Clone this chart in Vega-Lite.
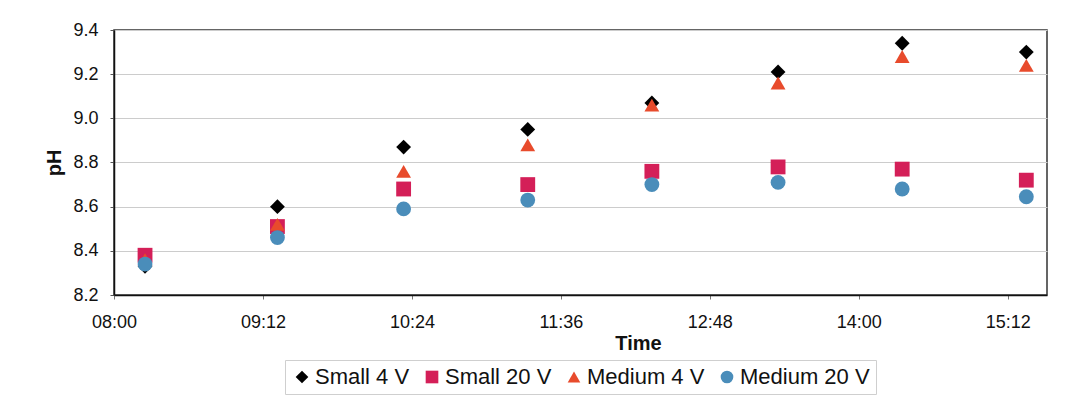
{
  "$schema": "https://vega.github.io/schema/vega-lite/v6.json",
  "width": 933,
  "height": 265,
  "autosize": {"type": "none"},
  "padding": {"left": 114, "top": 30, "right": 25, "bottom": 112},
  "background": "white",
  "config": {
    "font": "Liberation Sans",
    "view": {"stroke": "#333333", "strokeWidth": 1.5}
  },
  "data": {
    "values": [
      {"time": "2000-01-01T08:15", "series": "Small 4 V", "pH": 8.33},
      {"time": "2000-01-01T09:19", "series": "Small 4 V", "pH": 8.60},
      {"time": "2000-01-01T10:20", "series": "Small 4 V", "pH": 8.87},
      {"time": "2000-01-01T11:20", "series": "Small 4 V", "pH": 8.95},
      {"time": "2000-01-01T12:20", "series": "Small 4 V", "pH": 9.07},
      {"time": "2000-01-01T13:21", "series": "Small 4 V", "pH": 9.21},
      {"time": "2000-01-01T14:21", "series": "Small 4 V", "pH": 9.34},
      {"time": "2000-01-01T15:21", "series": "Small 4 V", "pH": 9.30},
      {"time": "2000-01-01T08:15", "series": "Small 20 V", "pH": 8.38},
      {"time": "2000-01-01T09:19", "series": "Small 20 V", "pH": 8.51},
      {"time": "2000-01-01T10:20", "series": "Small 20 V", "pH": 8.68},
      {"time": "2000-01-01T11:20", "series": "Small 20 V", "pH": 8.70},
      {"time": "2000-01-01T12:20", "series": "Small 20 V", "pH": 8.76},
      {"time": "2000-01-01T13:21", "series": "Small 20 V", "pH": 8.78},
      {"time": "2000-01-01T14:21", "series": "Small 20 V", "pH": 8.77},
      {"time": "2000-01-01T15:21", "series": "Small 20 V", "pH": 8.72},
      {"time": "2000-01-01T08:15", "series": "Medium 4 V", "pH": 8.36},
      {"time": "2000-01-01T09:19", "series": "Medium 4 V", "pH": 8.52},
      {"time": "2000-01-01T10:20", "series": "Medium 4 V", "pH": 8.76},
      {"time": "2000-01-01T11:20", "series": "Medium 4 V", "pH": 8.88},
      {"time": "2000-01-01T12:20", "series": "Medium 4 V", "pH": 9.06},
      {"time": "2000-01-01T13:21", "series": "Medium 4 V", "pH": 9.16},
      {"time": "2000-01-01T14:21", "series": "Medium 4 V", "pH": 9.28},
      {"time": "2000-01-01T15:21", "series": "Medium 4 V", "pH": 9.24},
      {"time": "2000-01-01T08:15", "series": "Medium 20 V", "pH": 8.34},
      {"time": "2000-01-01T09:19", "series": "Medium 20 V", "pH": 8.46},
      {"time": "2000-01-01T10:20", "series": "Medium 20 V", "pH": 8.59},
      {"time": "2000-01-01T11:20", "series": "Medium 20 V", "pH": 8.63},
      {"time": "2000-01-01T12:20", "series": "Medium 20 V", "pH": 8.70},
      {"time": "2000-01-01T13:21", "series": "Medium 20 V", "pH": 8.71},
      {"time": "2000-01-01T14:21", "series": "Medium 20 V", "pH": 8.68},
      {"time": "2000-01-01T15:21", "series": "Medium 20 V", "pH": 8.645}
    ]
  },
  "mark": {"type": "point", "filled": true, "opacity": 1, "size": 220},
  "encoding": {
    "x": {
      "field": "time",
      "type": "temporal",
      "title": "Time",
      "scale": {
        "domain": [
          {"year": 2000, "month": 1, "date": 1, "hours": 8, "minutes": 0},
          {"year": 2000, "month": 1, "date": 1, "hours": 15, "minutes": 31}
        ]
      },
      "axis": {
        "values": [
          {"year": 2000, "month": 1, "date": 1, "hours": 8, "minutes": 0},
          {"year": 2000, "month": 1, "date": 1, "hours": 9, "minutes": 12},
          {"year": 2000, "month": 1, "date": 1, "hours": 10, "minutes": 24},
          {"year": 2000, "month": 1, "date": 1, "hours": 11, "minutes": 36},
          {"year": 2000, "month": 1, "date": 1, "hours": 12, "minutes": 48},
          {"year": 2000, "month": 1, "date": 1, "hours": 14, "minutes": 0},
          {"year": 2000, "month": 1, "date": 1, "hours": 15, "minutes": 12}
        ],
        "format": "%H:%M",
        "grid": false,
        "domainColor": "#111111",
        "domainWidth": 1.5,
        "tickColor": "#777777",
        "tickSize": 4,
        "labelPadding": 14,
        "labelFontSize": 18,
        "labelColor": "#111111",
        "labelFlush": false,
        "titleFontSize": 20,
        "titleFontWeight": "bold",
        "titleColor": "#111111",
        "titlePadding": 2,
        "titleX": 524,
        "titleAlign": "center"
      }
    },
    "y": {
      "field": "pH",
      "type": "quantitative",
      "title": "pH",
      "scale": {"domain": [8.2, 9.4], "zero": false, "nice": false},
      "axis": {
        "values": [8.2, 8.4, 8.6, 8.8, 9.0, 9.2, 9.4],
        "format": ".1f",
        "grid": true,
        "gridColor": "#cccccc",
        "gridWidth": 1,
        "domainColor": "#111111",
        "domainWidth": 1.5,
        "tickColor": "#555555",
        "tickSize": 4,
        "labelPadding": 12,
        "labelFontSize": 18,
        "labelColor": "#111111",
        "titleFontSize": 20,
        "titleFontWeight": "bold",
        "titleColor": "#111111",
        "titlePadding": 8
      }
    },
    "color": {
      "field": "series",
      "type": "nominal",
      "title": null,
      "scale": {
        "domain": ["Small 4 V", "Small 20 V", "Medium 4 V", "Medium 20 V"],
        "range": ["#000000", "#d41f58", "#e84b2c", "#4a8dba"]
      },
      "legend": {
        "orient": "none",
        "direction": "horizontal",
        "legendX": 171,
        "legendY": 330,
        "strokeColor": "#cfcfcf",
        "fillColor": "white",
        "padding": 6,
        "labelFontSize": 22,
        "labelColor": "#111111",
        "labelOffset": 2,
        "columnPadding": 11,
        "symbolSize": 160,
        "symbolStrokeWidth": 0,
        "labelLimit": 300
      }
    },
    "shape": {
      "field": "series",
      "type": "nominal",
      "title": null,
      "scale": {
        "domain": ["Small 4 V", "Small 20 V", "Medium 4 V", "Medium 20 V"],
        "range": ["diamond", "square", "triangle-up", "circle"]
      }
    }
  }
}
